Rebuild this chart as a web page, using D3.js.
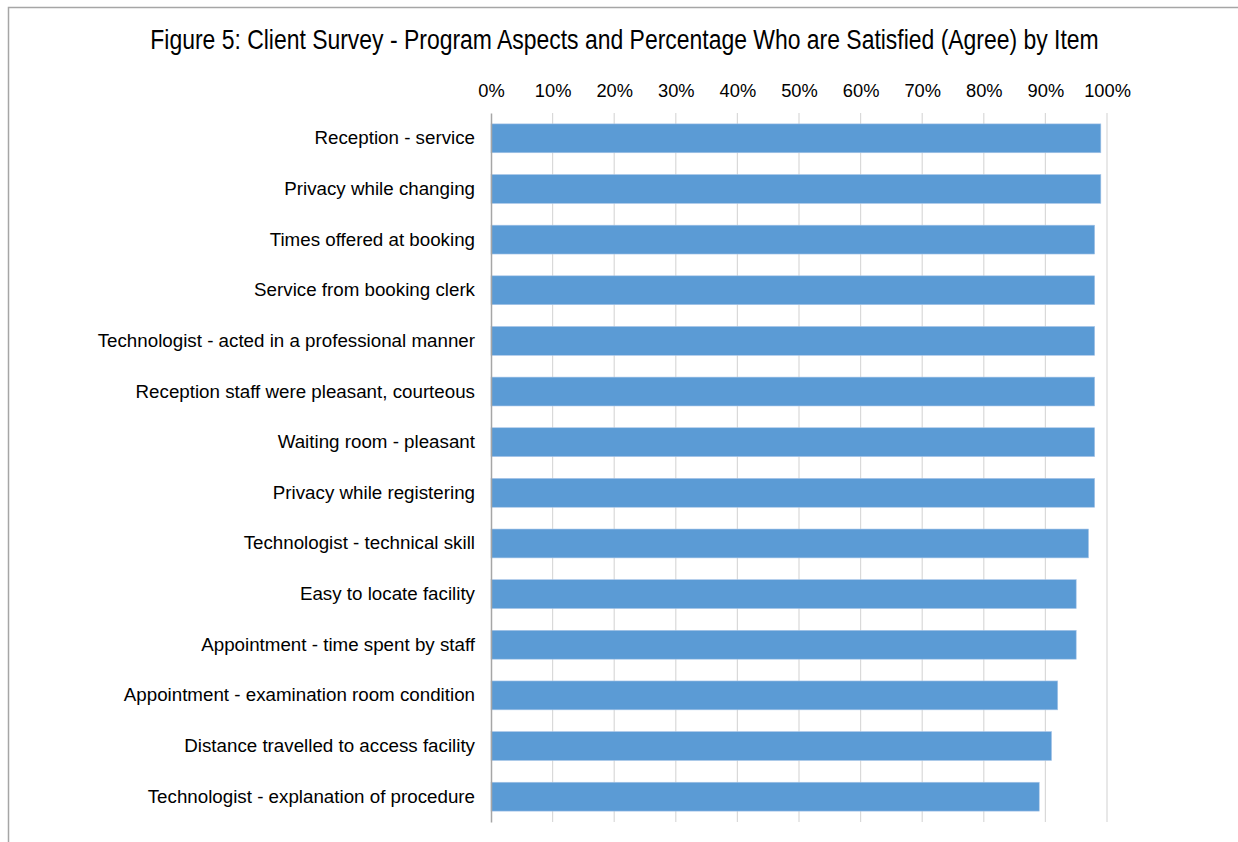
<!DOCTYPE html>
<html><head><meta charset="utf-8">
<script src="https://cdn.jsdelivr.net/npm/d3@7"></script>
<style>body{margin:0;background:#fff}svg{display:block}</style>
</head><body>
<script>
const categories = [
  "Reception - service",
  "Privacy while changing",
  "Times offered at booking",
  "Service from booking clerk",
  "Technologist - acted in a professional manner",
  "Reception staff were pleasant, courteous",
  "Waiting room - pleasant",
  "Privacy while registering",
  "Technologist - technical skill",
  "Easy to locate facility",
  "Appointment - time spent by staff",
  "Appointment - examination room condition",
  "Distance travelled to access facility",
  "Technologist - explanation of procedure"
];
const values = [0.99, 0.99, 0.98, 0.98, 0.98, 0.98, 0.98, 0.98, 0.97, 0.95, 0.95, 0.92, 0.91, 0.89];
const tickValues = [0,0.1,0.2,0.3,0.4,0.5,0.6,0.7,0.8,0.9,1.0];
const title = "Figure 5: Client Survey - Program Aspects and Percentage Who are Satisfied (Agree) by Item";

const W = 1238, H = 842;
const svg = d3.select("body").append("svg").attr("width", W).attr("height", H);
svg.append("rect").attr("width", W).attr("height", H).attr("fill", "#fff");

// frame
svg.append("path").attr("d", `M8.5,${H} L8.5,7.5 L${W},7.5`).attr("fill","none").attr("stroke","#a6a6a6").attr("stroke-width",1.5);

const x = d3.scaleLinear().domain([0,1]).range([491,1107]);
const y = d3.scaleBand().domain(categories).range([113,822]).paddingInner(0.43).paddingOuter(0.215);

// title: condensed via transform so its real box fits the page
const tg = svg.append("g").attr("transform","translate(624.5,49)");
const tt = tg.append("text").attr("x",0).attr("y",0).attr("text-anchor","middle")
  .attr("font-family","'Liberation Sans',Arial,sans-serif").attr("font-size",25)
  .attr("fill","#000").text(title);
const natW = tt.node().getComputedTextLength();
tt.attr("transform", `scale(${949/natW},1.1)`);

// gridlines
svg.append("g").selectAll("line").data(tickValues.slice(1)).join("line")
  .attr("x1", d=>x(d)).attr("x2", d=>x(d)).attr("y1",113).attr("y2",822)
  .attr("stroke","#d9d9d9").attr("stroke-width",1.2);

// top axis labels
const ax = svg.append("g").attr("transform","translate(0,113)")
  .call(d3.axisTop(x).tickValues(tickValues).tickFormat(d3.format(".0%")).tickSize(0).tickPadding(16));
ax.select(".domain").remove();
ax.selectAll("text").attr("font-family","'Liberation Sans',Arial,sans-serif").attr("font-size",18.3).attr("fill","#000");

// bars
svg.append("g").selectAll("rect").data(values).join("rect")
  .attr("x", x(0)).attr("y", (d,i)=>y(categories[i]))
  .attr("width", d=>x(d)-x(0)).attr("height", y.bandwidth())
  .attr("fill","#5b9bd5").attr("stroke","#a9c6e8").attr("stroke-width",0.6);

// category axis
const ay = svg.append("g").attr("transform",`translate(${x(0)},0)`)
  .call(d3.axisLeft(y).tickSize(0).tickPadding(16));
ay.select(".domain").attr("stroke","#a6a6a6").attr("stroke-width",1.5);
ay.selectAll("text").attr("font-family","'Liberation Sans',Arial,sans-serif").attr("font-size",18.75).attr("fill","#000");
</script>
</body></html>
